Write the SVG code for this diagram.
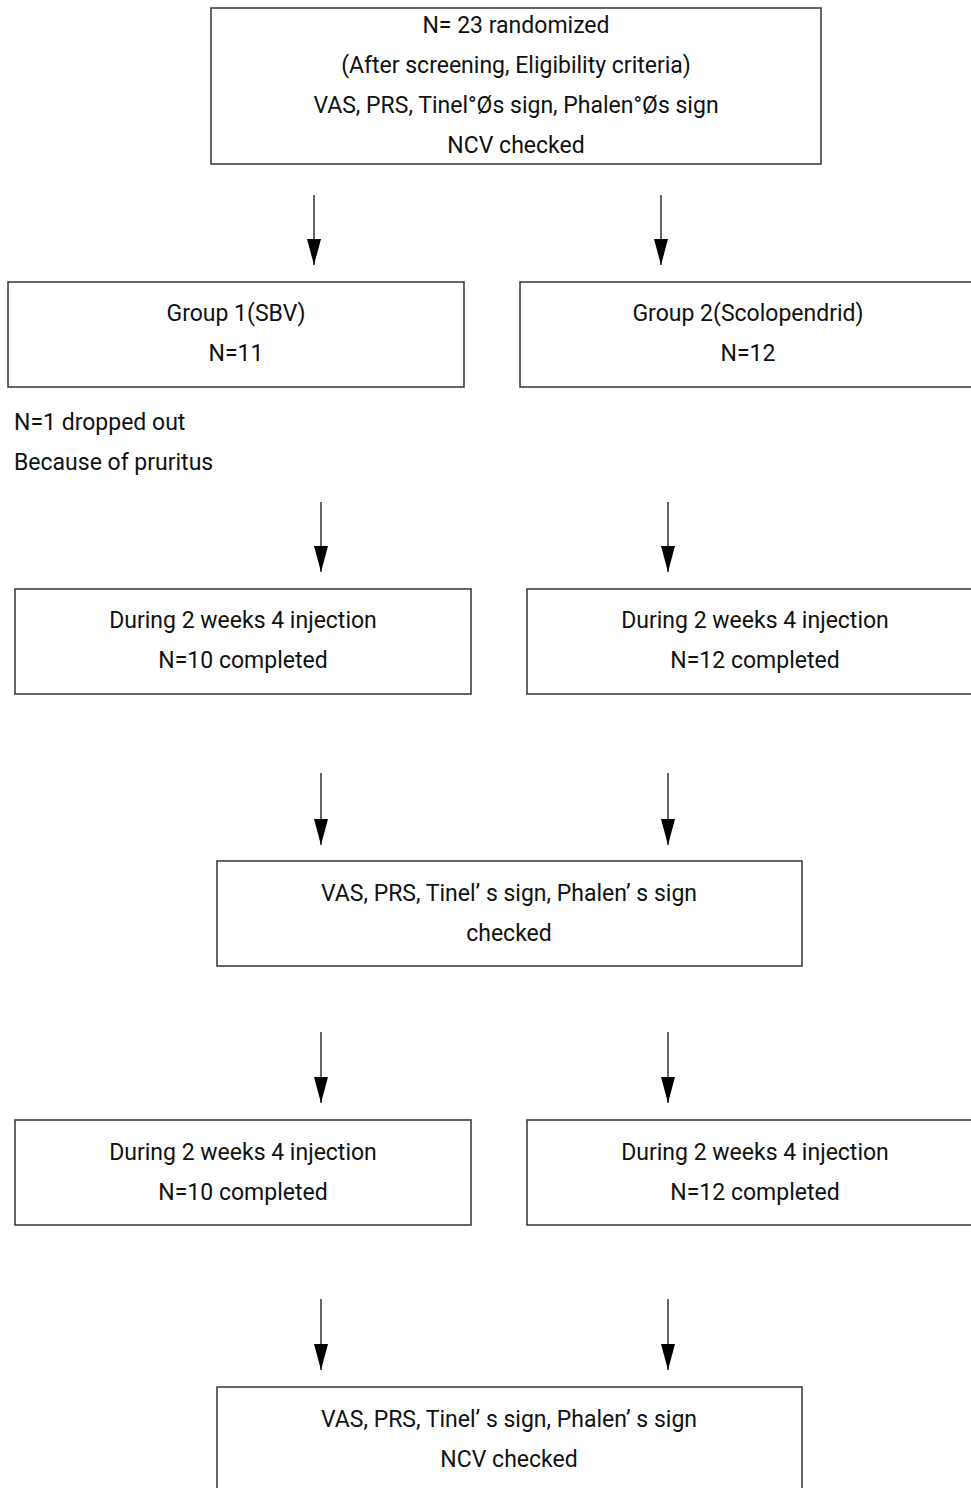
<svg xmlns="http://www.w3.org/2000/svg" width="971" height="1488" viewBox="0 0 971 1488">
<defs>
<marker id="ah" viewBox="0 0 26 14" refX="26" refY="7" markerWidth="26" markerHeight="14" orient="auto" markerUnits="userSpaceOnUse">
<path d="M0,0 L26,7 L0,14 Z" fill="#000"/>
</marker>
<style>
.box{fill:#fff;stroke:#333;stroke-width:1.5}
.t{font-family:"Roboto","Liberation Sans",sans-serif;font-size:23px;fill:#111;text-anchor:middle}
.tl{font-family:"Roboto","Liberation Sans",sans-serif;font-size:23px;fill:#111}
.c{stroke:#333;stroke-width:1.5;fill:none}
</style>
</defs>
<rect width="971" height="1488" fill="#fff"/>
<g id="top">
<rect class="box" x="211" y="8" width="610" height="156"/>
<text class="t" x="516" y="33">N= 23 randomized</text>
<text class="t" x="516" y="73">(After screening, Eligibility criteria)</text>
<text class="t" x="516" y="113">VAS, PRS, Tinel°Øs sign, Phalen°Øs sign</text>
<text class="t" x="516" y="153">NCV checked</text>
</g>
<g id="group1">
<rect class="box" x="8" y="282" width="456" height="105"/>
<text class="t" x="236" y="321">Group 1(SBV)</text>
<text class="t" x="236" y="361">N=11</text>
</g>
<g id="group2">
<rect class="box" x="520" y="282" width="460" height="105"/>
<text class="t" x="748" y="321">Group 2(Scolopendrid)</text>
<text class="t" x="748" y="361">N=12</text>
</g>
<g id="dropout">
<text class="tl" x="14" y="430">N=1 dropped out</text>
<text class="tl" x="14" y="470">Because of pruritus</text>
</g>
<g id="inj1a">
<rect class="box" x="15" y="589" width="456" height="105"/>
<text class="t" x="243" y="628">During 2 weeks 4 injection</text>
<text class="t" x="243" y="668">N=10 completed</text>
</g>
<g id="inj1b">
<rect class="box" x="527" y="589" width="460" height="105"/>
<text class="t" x="755" y="628">During 2 weeks 4 injection</text>
<text class="t" x="755" y="668">N=12 completed</text>
</g>
<g id="mid">
<rect class="box" x="217" y="861" width="585" height="105"/>
<text class="t" x="509" y="901">VAS, PRS, Tinel’ s sign, Phalen’ s sign</text>
<text class="t" x="509" y="941">checked</text>
</g>
<g id="inj2a">
<rect class="box" x="15" y="1120" width="456" height="105"/>
<text class="t" x="243" y="1160">During 2 weeks 4 injection</text>
<text class="t" x="243" y="1200">N=10 completed</text>
</g>
<g id="inj2b">
<rect class="box" x="527" y="1120" width="460" height="105"/>
<text class="t" x="755" y="1160">During 2 weeks 4 injection</text>
<text class="t" x="755" y="1200">N=12 completed</text>
</g>
<g id="final">
<rect class="box" x="217" y="1387" width="585" height="110"/>
<text class="t" x="509" y="1427">VAS, PRS, Tinel’ s sign, Phalen’ s sign</text>
<text class="t" x="509" y="1467">NCV checked</text>
</g>
<g id="connectors">
<line class="c" x1="314" y1="195" x2="314" y2="265" marker-end="url(#ah)"/>
<line class="c" x1="661" y1="195" x2="661" y2="265" marker-end="url(#ah)"/>
<line class="c" x1="321" y1="502" x2="321" y2="572" marker-end="url(#ah)"/>
<line class="c" x1="668" y1="502" x2="668" y2="572" marker-end="url(#ah)"/>
<line class="c" x1="321" y1="773" x2="321" y2="845" marker-end="url(#ah)"/>
<line class="c" x1="668" y1="773" x2="668" y2="845" marker-end="url(#ah)"/>
<line class="c" x1="321" y1="1032" x2="321" y2="1103" marker-end="url(#ah)"/>
<line class="c" x1="668" y1="1032" x2="668" y2="1103" marker-end="url(#ah)"/>
<line class="c" x1="321" y1="1299" x2="321" y2="1370" marker-end="url(#ah)"/>
<line class="c" x1="668" y1="1299" x2="668" y2="1370" marker-end="url(#ah)"/>
</g>
</svg>
